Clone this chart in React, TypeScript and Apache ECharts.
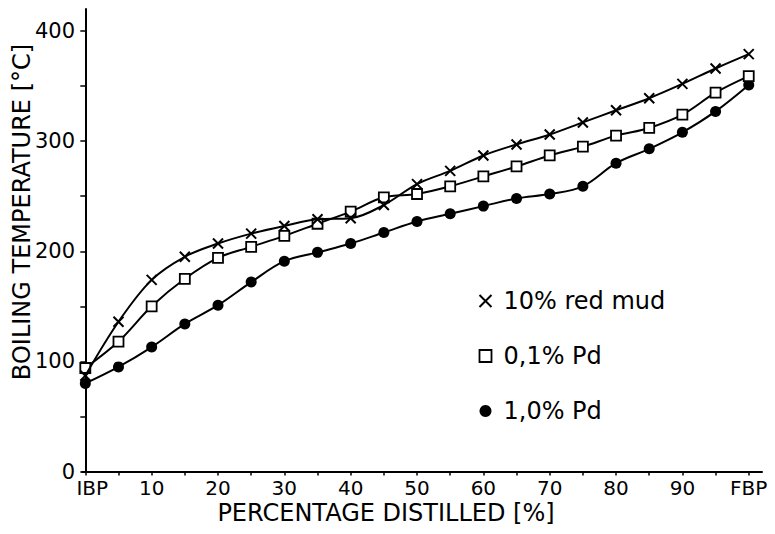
import React, { useEffect, useRef } from "react";
import * as echarts from "echarts";

const distilled = [0, 5, 10, 15, 20, 25, 30, 35, 40, 45, 50, 55, 60, 65, 70, 75, 80, 85, 90, 95, 100];
const redMud = [87, 136, 174, 195, 207, 216, 223, 229, 230, 242, 261, 273, 287, 297, 306, 317, 328, 339, 352, 366, 379];
const pd01 = [94, 118, 150, 175, 194, 204, 214, 225, 236, 249, 252, 259, 268, 277, 287, 295, 305, 312, 324, 344, 359];
const pd10 = [80, 95, 113, 134, 151, 172, 191, 199, 207, 217, 227, 234, 241, 248, 252, 259, 280, 293, 308, 327, 351];

const seriesNames = ["10% red mud", "0,1% Pd", "1,0% Pd"];
const xTickValues = [0, 5, 10, 15, 20, 25, 30, 35, 40, 45, 50, 55, 60, 65, 70, 75, 80, 85, 90, 95, 100];
const xLabelValues = [0, 10, 20, 30, 40, 50, 60, 70, 80, 90, 100];
const yTickValues = [0, 50, 100, 150, 200, 250, 300, 350, 400];
const yLabelValues = [0, 100, 200, 300, 400];
const xTitle = "PERCENTAGE DISTILLED [%]";
const yTitle = "BOILING TEMPERATURE [°C]";

const FONT = "'DejaVu Sans', 'Liberation Sans', sans-serif";
const CROSS = "path://M0,0L10,10M10,0L0,10";

export default function App() {
  const ref = useRef<HTMLDivElement>(null);
  useEffect(() => {
    if (!ref.current) return;
    const chart = echarts.init(ref.current, undefined, { renderer: "svg" });
    const pair = (ys: number[]) => distilled.map((x, i) => [x, ys[i]]);
    const lineStyle = { color: "#000", width: 2 };
    chart.setOption({
      animation: false,
      backgroundColor: "#fff",
      grid: { left: 82, right: 13, top: 9, bottom: 62.5, containLabel: false },
      xAxis: {
        type: "value",
        min: -0.5,
        max: 102,
        axisLine: { show: true, lineStyle: { color: "#000", width: 2 } },
        axisTick: { show: true, customValues: xTickValues, length: 4, lineStyle: { color: "#000", width: 1.5 } },
        axisLabel: {
          customValues: xLabelValues,
          margin: 6,
          color: "#000",
          fontFamily: FONT,
          fontSize: 20,
          lineHeight: 20,
          formatter: (v: number) => (v === 0 ? "{ibp|IBP}" : v === 100 ? "FBP" : String(v)),
          rich: { ibp: { fontFamily: FONT, fontSize: 20, lineHeight: 20, color: "#000", padding: [0, 0, 0, 14] } },
        },
        splitLine: { show: false },
      },
      yAxis: {
        type: "value",
        min: 0,
        max: 420,
        axisLine: { show: true, lineStyle: { color: "#000", width: 2 } },
        axisTick: { show: true, customValues: yTickValues, length: 5, lineStyle: { color: "#000", width: 1.5 } },
        axisLabel: { customValues: yLabelValues, margin: 7, color: "#000", fontFamily: FONT, fontSize: 21 },
        splitLine: { show: false },
      },
      legend: {
        orient: "vertical",
        left: 477,
        top: 289,
        padding: 0,
        itemWidth: 12,
        itemHeight: 12,
        itemGap: 31,
        textStyle: { fontFamily: FONT, fontSize: 24, color: "#000", padding: [0, 0, 0, 7] },
        data: [
          { name: seriesNames[0], icon: CROSS, itemStyle: { color: "none", borderColor: "#000", borderWidth: 2 } },
          { name: seriesNames[1], icon: "rect", itemStyle: { color: "#fff", borderColor: "#000", borderWidth: 1.8 } },
          { name: seriesNames[2], icon: "circle", itemStyle: { color: "#000", borderColor: "#000", borderWidth: 0 } },
        ],
      },
      graphic: [
        {
          type: "text",
          x: 386,
          y: 513,
          style: { text: xTitle, font: `24px ${FONT}`, fill: "#000", align: "center", verticalAlign: "middle" },
        },
        {
          type: "text",
          x: 22,
          y: 212,
          rotation: Math.PI / 2,
          style: { text: yTitle, font: `24px ${FONT}`, fill: "#000", align: "center", verticalAlign: "middle" },
        },
      ],
      series: [
        {
          name: seriesNames[0],
          type: "line",
          smooth: 0.35,
          data: pair(redMud),
          symbol: CROSS,
          symbolSize: 10,
          lineStyle,
          itemStyle: { color: "none", borderColor: "#000", borderWidth: 2 },
          z: 3,
        },
        {
          name: seriesNames[1],
          type: "line",
          smooth: 0.35,
          data: pair(pd01),
          symbol: "rect",
          symbolSize: 10,
          lineStyle,
          itemStyle: { color: "#fff", borderColor: "#000", borderWidth: 1.8 },
          z: 2,
        },
        {
          name: seriesNames[2],
          type: "line",
          smooth: 0.35,
          data: pair(pd10),
          symbol: "circle",
          symbolSize: 11,
          lineStyle,
          itemStyle: { color: "#000" },
          z: 1,
        },
      ],
    });
    return () => chart.dispose();
  }, []);
  return <div ref={ref} style={{ width: 775, height: 534, position: "absolute", left: 0, top: 0 }} />;
}
